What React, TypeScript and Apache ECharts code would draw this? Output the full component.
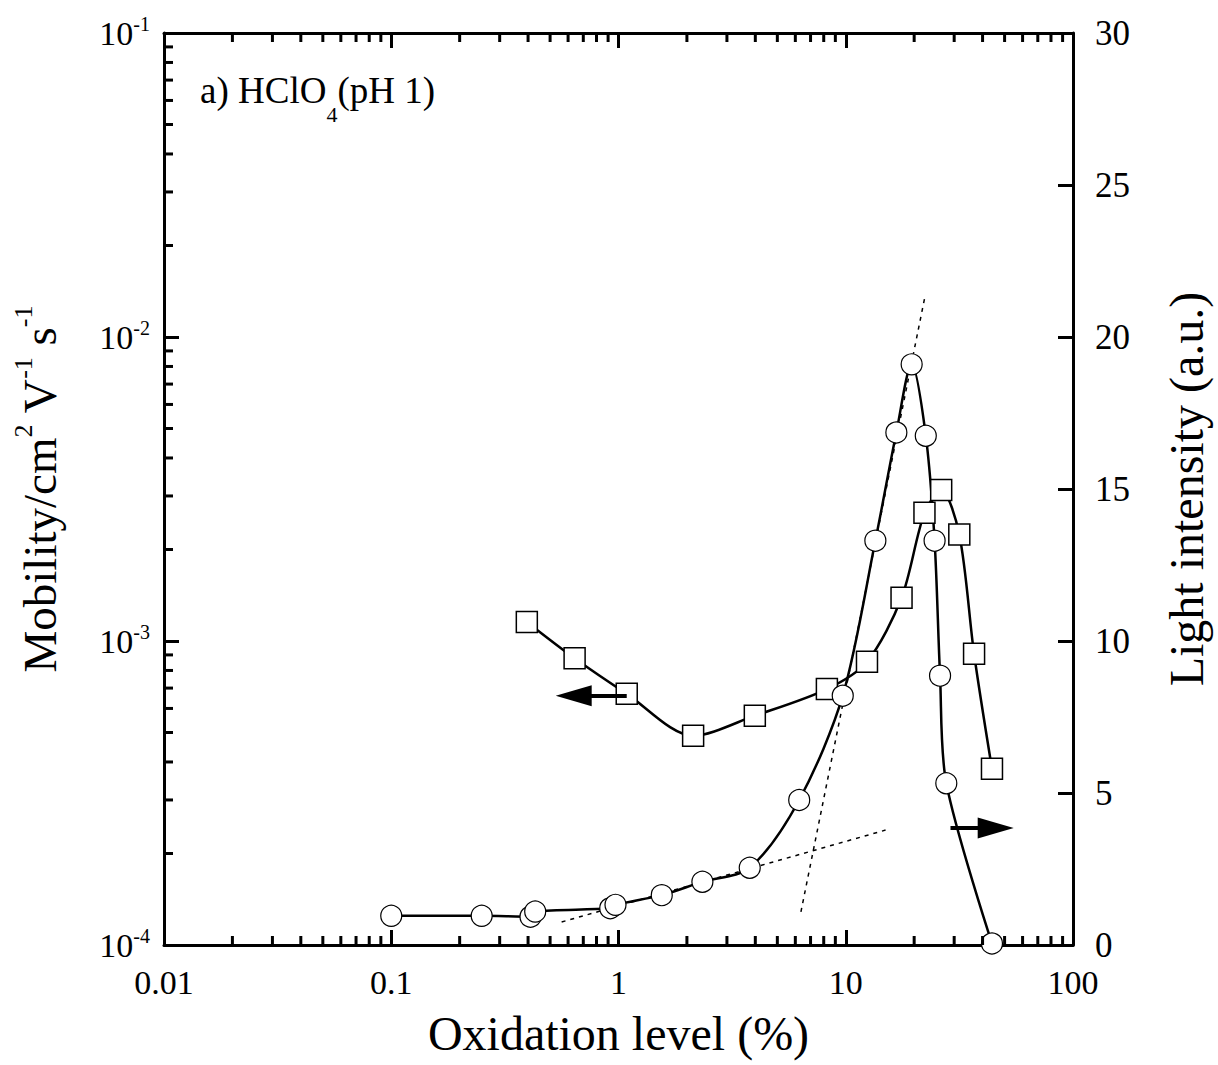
import React, { useEffect, useRef } from 'react';
import * as echarts from 'echarts';

const FONT = '"Liberation Serif", "Times New Roman", serif';

// Tick labels
const xTickLabels = ['0.01', '0.1', '1', '10', '100'];
const yLeftExponents = ['-4', '-3', '-2', '-1'];
const minorMultipliers = [2, 3, 4, 5, 6, 7, 8, 9];
const xDecades = [0.01, 0.1, 1, 10];
const yDecades = [1e-4, 1e-3, 1e-2];

// Light intensity (circles, right axis)
const circleX = [0.1, 0.25, 0.41, 0.43, 0.92, 0.97, 1.55, 2.34, 3.78, 6.24, 9.7, 13.5, 16.7, 19.5, 22.5, 24.6, 26.0, 27.7, 44.0];
const circleY = [0.96, 0.96, 0.93, 1.1, 1.21, 1.32, 1.64, 2.08, 2.54, 4.77, 8.2, 13.3, 16.86, 19.1, 16.75, 13.3, 8.86, 5.32, 0.05];

// Mobility (squares, left axis)
const squareX = [0.395, 0.641, 1.087, 2.13, 3.98, 8.26, 12.4, 17.6, 22.2, 26.3, 31.6, 36.7, 44.0];
const squareY = [1.155e-3, 8.77e-4, 6.7e-4, 4.88e-4, 5.68e-4, 6.95e-4, 8.55e-4, 1.387e-3, 2.64e-3, 3.14e-3, 2.24e-3, 9.08e-4, 3.8e-4];

// Dotted fit lines (right axis)
const lowFitX = [0.562, 14.97];
const lowFitY = [0.757, 3.78];
const steepFitX = [6.35, 22.2];
const steepFitY = [1.09, 21.25];

// Arrows
const leftArrowX = [1.087, 0.635];
const leftArrowY = [6.6e-4, 6.6e-4];
const rightArrowX = [28.9, 45.7];
const rightArrowY = [3.85, 3.85];

const zip = (xs: number[], ys: number[]) => xs.map((x, i) => [x, ys[i]]);

export default function App() {
  const ref = useRef<HTMLDivElement>(null);

  useEffect(() => {
    if (!ref.current) return;
    const chart = echarts.init(ref.current, null, { renderer: 'svg' });

    const minorData: number[][] = [];
    xDecades.forEach((d) =>
      minorMultipliers.forEach((m) => {
        minorData.push([d * m, 1e-4, 0]);
        minorData.push([d * m, 1e-1, 1]);
      })
    );
    yDecades.forEach((d) =>
      minorMultipliers.forEach((m) => {
        minorData.push([0.01, d * m, 2]);
      })
    );

    const axisLine = { show: true, lineStyle: { color: '#000', width: 3 } };
    const axisTick = { show: true, inside: true, length: 15, lineStyle: { color: '#000', width: 3 } };

    const option: any = {
      animation: false,
      backgroundColor: '#fff',
      grid: { left: 164, right: 142, top: 33, bottom: 120, containLabel: false },
      xAxis: [
        {
          type: 'log',
          logBase: 10,
          min: 0.01,
          max: 100,
          position: 'bottom',
          axisLine,
          axisTick,
          splitLine: { show: false },
          axisLabel: {
            fontSize: 34,
            fontFamily: FONT,
            color: '#000',
            margin: 20,
            formatter: (v: number) => xTickLabels[Math.round(Math.log10(v)) + 2] ?? '',
          },
          name: 'Oxidation level (%)',
          nameLocation: 'middle',
          nameGap: 64,
          nameTextStyle: { fontSize: 48, fontFamily: FONT, color: '#000' },
        },
        {
          type: 'log',
          logBase: 10,
          min: 0.01,
          max: 100,
          position: 'top',
          axisLine,
          axisTick,
          splitLine: { show: false },
          axisLabel: { show: false },
        },
      ],
      yAxis: [
        {
          type: 'log',
          logBase: 10,
          min: 1e-4,
          max: 1e-1,
          position: 'left',
          axisLine,
          axisTick,
          splitLine: { show: false },
          axisLabel: {
            margin: 14,
            color: '#000',
            formatter: (v: number) => {
              const e = Math.round(Math.log10(v));
              const s = yLeftExponents[e + 4] ?? String(e);
              return `{b|10}{s|${s}}`;
            },
            rich: {
              b: { fontSize: 34, fontFamily: FONT, color: '#000', lineHeight: 38 },
              s: { fontSize: 20, fontFamily: FONT, color: '#000', lineHeight: 20, verticalAlign: 'top' },
            },
          },
          name: 'Mobility/cm{s|2} V{s|-1} s{s|-1}',
          nameLocation: 'middle',
          nameGap: 94,
          nameTextStyle: {
            fontSize: 47,
            fontFamily: FONT,
            color: '#000',
            lineHeight: 60,
            rich: {
              s: { fontSize: 26, fontFamily: FONT, color: '#000', lineHeight: 26, verticalAlign: 'top' },
            },
          },
        },
        {
          type: 'value',
          min: 0,
          max: 30,
          interval: 5,
          position: 'right',
          axisLine,
          axisTick,
          splitLine: { show: false },
          axisLabel: { fontSize: 35, fontFamily: FONT, color: '#000', margin: 22 },
          name: 'Light intensity (a.u.)',
          nameLocation: 'middle',
          nameGap: 89,
          nameTextStyle: { fontSize: 48, fontFamily: FONT, color: '#000' },
        },
      ],
      graphic: [
        {
          type: 'text',
          left: 200,
          top: 55,
          style: {
            text: 'a) HClO{sub|4}(pH 1)',
            fontSize: 37,
            fontFamily: FONT,
            fill: '#000',
            lineHeight: 70,
            rich: {
              sub: { fontSize: 22, fontFamily: FONT, fill: '#000', lineHeight: 22, verticalAlign: 'bottom' },
            },
          },
        },
      ],
      series: [
        {
          type: 'custom',
          name: 'minorTicks',
          xAxisIndex: 0,
          yAxisIndex: 0,
          clip: false,
          silent: true,
          z: 10,
          encode: { x: 0, y: 1 },
          data: minorData,
          renderItem: (params: any, api: any) => {
            const kind = api.value(2);
            const p = api.coord([api.value(0), api.value(1)]);
            const L = 9;
            let shape;
            if (kind === 0) shape = { x1: p[0], y1: p[1], x2: p[0], y2: p[1] - L };
            else if (kind === 1) shape = { x1: p[0], y1: p[1], x2: p[0], y2: p[1] + L };
            else shape = { x1: p[0], y1: p[1], x2: p[0] + L, y2: p[1] };
            return { type: 'line', shape, style: { stroke: '#000', lineWidth: 3 } };
          },
        },
        {
          type: 'line',
          name: 'lowFit',
          xAxisIndex: 0,
          yAxisIndex: 1,
          data: zip(lowFitX, lowFitY),
          symbol: 'none',
          silent: true,
          lineStyle: { color: '#000', width: 1.5, type: [4, 5] },
        },
        {
          type: 'line',
          name: 'steepFit',
          xAxisIndex: 0,
          yAxisIndex: 1,
          data: zip(steepFitX, steepFitY),
          symbol: 'none',
          silent: true,
          lineStyle: { color: '#000', width: 1.5, type: [4, 5] },
        },
        {
          type: 'line',
          name: 'Mobility',
          xAxisIndex: 0,
          yAxisIndex: 0,
          data: zip(squareX, squareY),
          smooth: 0.3,
          symbol: 'rect',
          symbolSize: 21,
          showSymbol: true,
          silent: true,
          lineStyle: { color: '#000', width: 2.5 },
          itemStyle: { color: '#fff', borderColor: '#000', borderWidth: 1.5 },
          markLine: {
            silent: true,
            symbol: ['none', 'triangle'],
            symbolSize: [0, 24],
            label: { show: false },
            lineStyle: { color: '#000', width: 4, type: 'solid' },
            emphasis: { disabled: true },
            data: [
              [
                { coord: [leftArrowX[0], leftArrowY[0]], symbol: 'none' },
                { coord: [leftArrowX[1], leftArrowY[1]], symbol: 'triangle', symbolSize: [21, 36], itemStyle: { color: '#000' } },
              ],
            ],
          },
        },
        {
          type: 'line',
          name: 'Light intensity',
          xAxisIndex: 0,
          yAxisIndex: 1,
          data: zip(circleX, circleY),
          smooth: 0.3,
          symbol: 'circle',
          symbolSize: 21,
          showSymbol: true,
          silent: true,
          lineStyle: { color: '#000', width: 2.5 },
          itemStyle: { color: '#fff', borderColor: '#000', borderWidth: 1.2 },
          markLine: {
            silent: true,
            symbol: ['none', 'triangle'],
            symbolSize: [0, 24],
            label: { show: false },
            lineStyle: { color: '#000', width: 4, type: 'solid' },
            emphasis: { disabled: true },
            data: [
              [
                { coord: [rightArrowX[0], rightArrowY[0]], symbol: 'none' },
                { coord: [rightArrowX[1], rightArrowY[1]], symbol: 'triangle', symbolSize: [21, 36], itemStyle: { color: '#000' } },
              ],
            ],
          },
        },
      ],
    };

    chart.setOption(option);
    return () => chart.dispose();
  }, []);

  return (
    <div
      ref={ref}
      style={{ position: 'absolute', left: 0, top: 0, width: 1218, height: 1065, background: '#fff' }}
    />
  );
}
